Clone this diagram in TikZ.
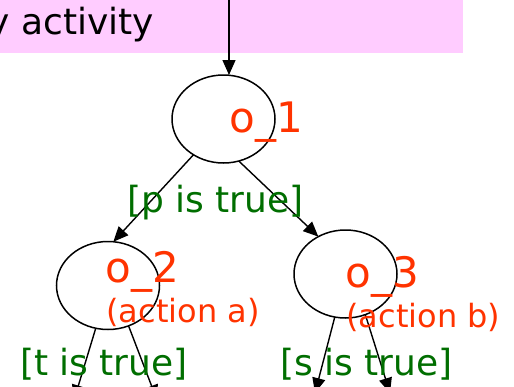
\documentclass[tikz,border=0pt]{standalone}
\usepackage{fontspec}
\setmainfont{DejaVu Sans}
\usetikzlibrary{shapes.geometric,arrows.meta}
\definecolor{bandpink}{RGB}{255,204,255}
\definecolor{guardgreen}{RGB}{0,110,0}
\definecolor{objred}{RGB}{255,51,0}
\begin{document}
\begin{tikzpicture}[x=1pt,y=-1pt,
  state/.style={draw,ellipse,line width=1.5pt,minimum width=103pt,minimum height=88pt,inner sep=0pt,outer sep=0pt},
  txt/.style={inner sep=0pt,outer sep=0pt,anchor=base west},
  objlabel/.style={txt,text=objred,font=\fontsize{42}{46}\selectfont},
  actlabel/.style={txt,text=objred,font=\fontsize{32}{36}\selectfont},
  guard/.style={txt,text=guardgreen,font=\fontsize{36}{40}\selectfont},
  flow/.style={line width=1.4pt,-{Triangle[length=15pt,width=13pt]}}]
\useasboundingbox (0,0) rectangle (514,386);
\clip (0,0) rectangle (514,386);
% band
\fill[bandpink] (0,0) rectangle (463,52.5);
\node[txt,font=\fontsize{36}{40}\selectfont] (band) at (21.5,34) {\llap{y\ }activity};
% states
\node[state] (o1) at (223.5,119) {};
\node[state] (o2) at (108,285.5) {};
\node[state] (o3) at (345.5,274) {};
% free ends
\coordinate (top) at (229,0);
\coordinate (e1) at (74,400);
\coordinate (e2) at (157,400);
\coordinate (e3) at (315,393);
\coordinate (e4) at (390,393);
% connectors
\draw[flow] (top) -- (top |- o1.north);
\draw[flow] (o1.-130) -- (o2.83);
\draw[flow] (o1.-70) -- (o3.126);
\draw[flow] (o2.-106) -- (e1);
\draw[flow] (o2.-63) -- (e2);
\draw[flow] (o3.-104) -- (e3);
\draw[flow] (o3.-64) -- (e4);
% labels
\node[objlabel] (l1) at (229.5,132) {o\_1};
\node[objlabel] (l2) at (105.5,282) {o\_2};
\node[actlabel] (a2) at (106.5,322) {(action a)};
\node[objlabel] (l3) at (345.5,287) {o\_3};
\node[actlabel] (a3) at (346.5,327) {(action b)};
\node[guard] (gp) at (127,212) {[p is true]};
\node[guard] (gt) at (20,375) {[t is true]};
\node[guard] (gs) at (280,375) {[s is true]};
\end{tikzpicture}
\end{document}
